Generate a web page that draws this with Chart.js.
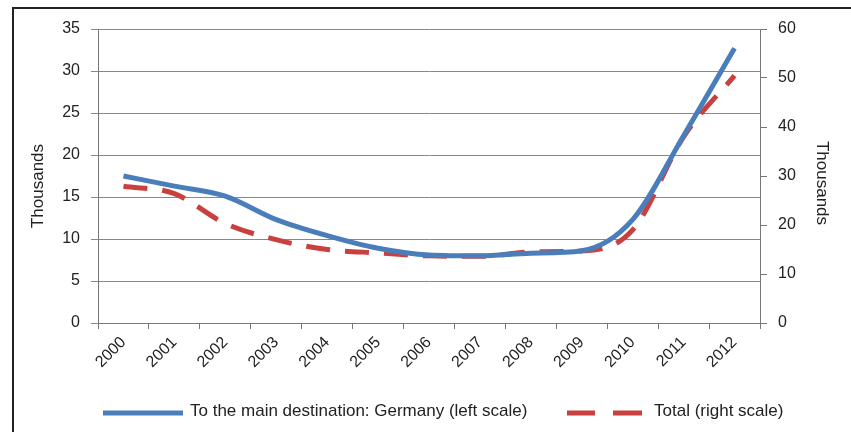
<!DOCTYPE html>
<html><head><meta charset="utf-8">
<script src="https://cdn.jsdelivr.net/npm/chart.js@4.4.0/dist/chart.umd.min.js"></script>
<style>
html,body{margin:0;padding:0;background:#fff;}
#wrap{position:relative;width:851px;height:432px;}
#frame{position:absolute;left:12px;top:7px;width:845px;height:430px;border-left:2px solid #222;border-top:2px solid #222;}
canvas{position:absolute;left:0;top:0;}
</style></head><body>
<div id="wrap"><div id="frame"></div><canvas id="c" width="851" height="432"></canvas></div>
<script>
const years = ['2000','2001','2002','2003','2004','2005','2006','2007','2008','2009','2010','2011','2012'];
const germany = [17.5, 16.3, 15.1, 12.3, 10.4, 8.9, 8.1, 8.0, 8.3, 8.6, 12.3, 22.3, 32.7];
const total = [27.9, 26.4, 20.3, 17.0, 15.0, 14.3, 13.7, 13.6, 14.5, 14.7, 19.0, 38.0, 50.5];
const leftTicks = [0,5,10,15,20,25,30,35];
const rightTicks = [0,10,20,30,40,50,60];
const axisTitle = 'Thousands';
const FONT = "'Liberation Sans',Arial,sans-serif";
const BLUE = '#4a7ebb', RED = '#c9403f';

const extras = {
  id: 'extras',
  afterDraw(chart) {
    const ctx = chart.ctx;
    ctx.save();
    ctx.fillStyle = '#222';
    ctx.font = '17px ' + FONT;
    ctx.textAlign = 'center'; ctx.textBaseline = 'middle';
    ctx.save(); ctx.translate(38, 186); ctx.rotate(-Math.PI/2); ctx.fillText(axisTitle, 0, 0); ctx.restore();
    ctx.save(); ctx.translate(822, 183); ctx.rotate(Math.PI/2); ctx.fillText(axisTitle, 0, 0); ctx.restore();
    const ds = chart.data.datasets;
    const ly = 413;
    ctx.lineWidth = 5; ctx.lineCap = 'butt';
    ctx.strokeStyle = ds[0].borderColor;
    ctx.beginPath(); ctx.moveTo(103, ly); ctx.lineTo(183, ly); ctx.stroke();
    ctx.strokeStyle = ds[1].borderColor;
    ctx.beginPath(); ctx.moveTo(567, ly); ctx.lineTo(595, ly); ctx.moveTo(613, ly); ctx.lineTo(642, ly); ctx.stroke();
    ctx.textAlign = 'left';
    ctx.fillText(ds[0].label, 190, 411);
    ctx.fillText(ds[1].label, 654, 411);
    ctx.restore();
  }
};

new Chart(document.getElementById('c'), {
  type: 'line',
  data: {
    labels: years,
    datasets: [
      {label: 'To the main destination: Germany (left scale)', data: germany, yAxisID: 'y',
       borderColor: BLUE, backgroundColor: BLUE, borderWidth: 5, pointRadius: 0,
       cubicInterpolationMode: 'monotone'},
      {label: 'Total (right scale)', data: total, yAxisID: 'y1',
       borderColor: RED, backgroundColor: RED, borderWidth: 5, pointRadius: 0,
       borderDash: [24, 15], cubicInterpolationMode: 'monotone'}
    ]
  },
  plugins: [extras],
  options: {
    responsive: false, animation: false,
    layout: {padding: {left: 0, right: 0, top: 29, bottom: 0}},
    plugins: {legend: {display: false}, tooltip: {enabled: false}},
    scales: {
      x: {offset: true,
        grid: {display: true, drawOnChartArea: false, offset: true, color: '#777', tickLength: 6},
        border: {color: '#777', width: 1},
        ticks: {maxRotation: 45, minRotation: 45, color: '#222', font: {family: FONT, size: 16}, padding: 4},
        afterFit: s => { s.height = 109; }
      },
      y: {position: 'left', min: 0, max: 35,
        afterBuildTicks: s => { s.ticks = leftTicks.map(v => ({value: v})); },
        grid: {color: '#888', lineWidth: 1, tickLength: 7},
        border: {color: '#777'},
        ticks: {color: '#222', font: {family: FONT, size: 16}, padding: 11},
        afterFit: s => { s.width = 98; }
      },
      y1: {position: 'right', min: 0, max: 60,
        afterBuildTicks: s => { s.ticks = rightTicks.map(v => ({value: v})); },
        grid: {drawOnChartArea: false, color: '#777', tickLength: 7},
        border: {color: '#777'},
        ticks: {color: '#222', font: {family: FONT, size: 16}, padding: 11},
        afterFit: s => { s.width = 91; }
      }
    }
  }
});
</script></body></html>
